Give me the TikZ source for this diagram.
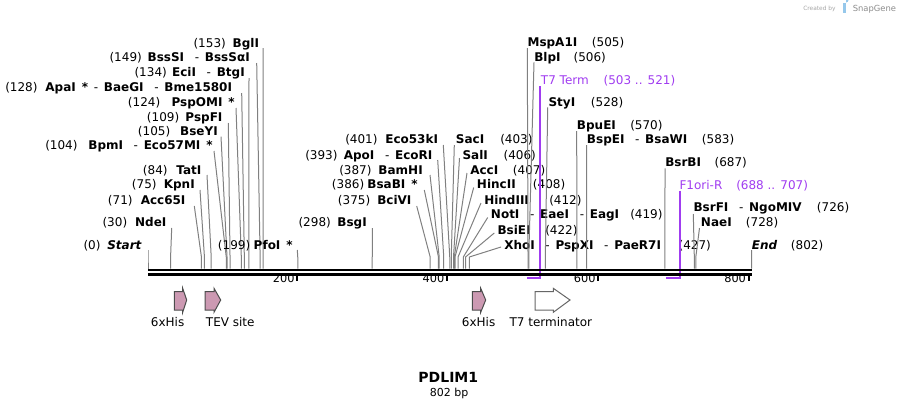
\documentclass[tikz,border=0pt]{standalone}
\usepackage{fontspec}
\setmainfont{DejaVu Sans}
\definecolor{prim}{RGB}{160,60,240}
\definecolor{feat}{RGB}{204,153,178}
\definecolor{sgblue}{RGB}{150,200,235}
\tikzset{
  lbl/.style={font=\fontsize{9}{10}\selectfont, inner sep=0pt},
  nm/.style={font=\fontsize{9}{10}\selectfont\bfseries, inner sep=0pt},
  plbl/.style={lbl, text=prim},
  siteline/.style={draw=black!50, line width=0.75pt},
  primline/.style={draw=prim, line width=1.4pt},
  featarrow/.style={fill=feat, draw=black!70, line width=0.75pt, line join=miter},
  termarrow/.style={fill=white, draw=black!60, line width=0.75pt, line join=miter},
  tickmark/.style={draw=black, line width=1.5pt},
  ticklbl/.style={font=\fontsize{8.5}{9}\selectfont, inner sep=0pt, anchor=base east},
  featlbl/.style={font=\fontsize{9}{10}\selectfont, inner sep=0pt, anchor=base west},
}
% left-hand labels: id, numx, num, name right x, name, y, line x, line y, site
\newcommand\cutL[9]{%
  \node[lbl, anchor=base west] (#1n) at (#2,{#6+4.3}) {(#3)};
  \node[nm, anchor=base east] (#1) at (#4,{#6+4.3}) {#5};
  \coordinate (#1t) at (#7,#8);
  \coordinate (#1k) at ({148+0.7525*#9},257);
  \coordinate (#1s) at ({148+0.7525*#9},268.5);
  \draw[siteline] (#1t) -- (#1k) -- (#1s);
}
% right-hand labels: id, name left x, name, numx, num, y, line x, line y, site
\newcommand\cutR[9]{%
  \node[nm, anchor=base west] (#1) at (#2,{#6+4.3}) {#3};
  \node[lbl, anchor=base west] (#1n) at (#4,{#6+4.3}) {(#5)};
  \coordinate (#1t) at (#7,#8);
  \coordinate (#1k) at ({148+0.7525*#9},257);
  \coordinate (#1s) at ({148+0.7525*#9},268.5);
  \draw[siteline] (#1t) -- (#1k) -- (#1s);
}
\newcommand\featshape[4]{% x1, x2, x3, style
  \path[#4] (#1,291.7) -- (#2,291.7) -- (#2,288.3) -- (#3,300) -- (#2,312.3) -- (#2,310) -- (#1,310) -- cycle;
}
\newcommand\lsep{{\mdseries\hspace{8pt}-\hspace{4.3pt}}}
\newcommand\astk{\hspace{4.5pt}*}
\begin{document}
\begin{tikzpicture}[x=0.75pt,y=-0.75pt]
\useasboundingbox (0,0) rectangle (900,408);
% site lines and labels, left side
\cutL{bgl}{193.3}{153}{259.3}{BglI}{42.7}{263}{48}{153}
\cutL{bss}{109.3}{149}{250}{BssSI\lsep BssSαI}{56.7}{256.7}{63}{149}
\cutL{eci}{134.3}{134}{245}{EciI\lsep BtgI}{72.3}{249}{78}{134}
\cutL{apa}{5}{128}{232.3}{ApaI\astk{\mdseries\hspace{4.3pt}-\hspace{4.3pt}}BaeGI\lsep Bme1580I}{87.3}{241.7}{93}{128}
\cutL{pom}{127.7}{124}{235}{PspOMI\astk}{102.3}{236}{108}{124}
\cutL{pfi}{146.7}{109}{222.7}{PspFI}{117.3}{228.3}{123}{109}
\cutL{bse}{137.7}{105}{218}{BseYI}{130.7}{221}{136.7}{105}
\cutL{bpm}{45}{104}{213}{BpmI\lsep Eco57MI\astk}{145}{214}{151}{104}
\cutL{tat}{142.7}{84}{201.7}{TatI}{170}{207}{175}{84}
\cutL{kpn}{131.7}{75}{195}{KpnI}{184.3}{200}{190}{75}
\cutL{acc}{107.7}{71}{185.7}{Acc65I}{200}{194.3}{206}{71}
\cutL{nde}{102.3}{30}{166.7}{NdeI}{221.7}{171.7}{228}{30}
\cutL{start}{83.3}{0}{141.7}{\itshape Start}{245}{148}{250}{0}
\cutL{pfo}{217.7}{199}{293}{PfoI\astk}{245}{297.3}{250}{199}
\cutL{bsg}{298.3}{298}{367}{BsgI}{221.7}{372.3}{228}{298}
\cutL{bci}{337.7}{375}{411.7}{BciVI}{200}{416.7}{206}{375}
\cutL{bsa}{331.7}{386}{418}{BsaBI\astk}{184.3}{424.3}{190}{386}
\cutL{bam}{339}{387}{423}{BamHI}{170}{430}{175}{387}
\cutL{apo}{305}{393}{432.7}{ApoI\lsep EcoRI}{155}{437.7}{160}{393}
\cutL{ecok}{345}{401}{438.3}{Eco53kI}{139.3}{443.3}{145}{401}
% right-middle group
\cutR{sac}{455.7}{SacI}{500}{403}{139.3}{454.3}{145}{403}
\cutR{sal}{462.3}{SalI}{503.3}{406}{155}{459.5}{158}{406}
\cutR{acci}{470}{AccI}{512.7}{407}{170}{467}{173}{407}
\cutR{hinc}{476.7}{HincII}{532.7}{408}{184.3}{473.7}{187.5}{408}
\cutR{hind}{484}{HindIII}{549}{412}{200}{481}{203}{412}
\cutR{not}{490.7}{NotI\lsep EaeI\lsep EagI}{630}{419}{214.3}{487.7}{217.5}{419}
\cutR{bsi}{497.3}{BsiEI}{545}{422}{230}{494.3}{233}{422}
\cutR{xho}{504}{XhoI\lsep PspXI\lsep PaeR7I}{678.3}{427}{245}{501}{247}{427}
% right group
\cutR{msp}{527.3}{MspA1I}{591.7}{505}{41.7}{527.3}{48}{505}
\cutR{blp}{534}{BlpI}{573.3}{506}{56.7}{534}{62.3}{506}
\cutR{sty}{548.3}{StyI}{590.7}{528}{101.7}{547.7}{107.3}{528}
\cutR{bpu}{576.7}{BpuEI}{630}{570}{125}{576.7}{131}{570}
\cutR{bsp}{586.7}{BspEI\lsep BsaWI}{701.7}{583}{139.3}{586.7}{145}{583}
\cutR{bsrb}{665}{BsrBI}{714.3}{687}{162.3}{665}{168.3}{687}
\cutR{bsrf}{693.3}{BsrFI\lsep NgoMIV}{816.7}{726}{206.7}{693.3}{214}{726}
\cutR{nae}{700.7}{NaeI}{745.7}{728}{221.7}{699.5}{228}{728}
\cutR{end}{751.7}{\itshape End}{790.7}{802}{245}{751.5}{250}{802}
% primers
\node[plbl, anchor=base west] (t7p) at (540.7,84.3) {T7 Term};
\node[plbl, anchor=base west] (t7pn) at (603.3,84.3) {(503 .. 521)};
\coordinate (t7t) at (540,86);
\coordinate (t7k) at (540,278);
\coordinate (t7e) at (526.5,278);
\draw[primline] (t7t) -- (t7k) -- (t7e);
\node[plbl, anchor=base west] (f1p) at (679.3,189.3) {F1ori-R};
\node[plbl, anchor=base west] (f1pn) at (736,189.3) {(688 .. 707)};
\coordinate (f1t) at (680,190.7);
\coordinate (f1k) at (680,278);
\coordinate (f1e) at (665.7,278);
\draw[primline] (f1t) -- (f1k) -- (f1e);
% backbone
\coordinate (bbA) at (148,270);
\coordinate (bbB) at (751.5,270);
\coordinate (bbC) at (148,274.5);
\coordinate (bbD) at (751.5,274.5);
\draw[line width=2.2pt] (bbA) -- (bbB);
\draw[line width=1.7pt] (bbC) -- (bbD);
% ticks
\foreach \v/\xx in {200/297.3,400/447,600/598.3,800/748.7}{
  \coordinate (tk\v) at (\xx,274);
  \coordinate (tb\v) at (\xx,281);
  \draw[tickmark] (tk\v) -- (tb\v);
  \node[ticklbl] (tl\v) at (\xx-2.5,282.5) {\v};
}
% features
\featshape{174.3}{182.7}{186.7}{featarrow}
\featshape{205}{214}{220.7}{featarrow}
\featshape{472.3}{480.7}{485.7}{featarrow}
\featshape{535}{553.3}{570}{termarrow}
\node[featlbl] (f1) at (150.7,326) {6xHis};
\node[featlbl] (f2) at (205.7,326) {TEV site};
\node[featlbl] (f3) at (461.7,326) {6xHis};
\node[featlbl] (f4) at (509.3,326) {T7 terminator};
% title
\node[font=\fontsize{10.5}{12}\selectfont\bfseries, inner sep=0pt, anchor=base] (title) at (448.3,382.5) {PDLIM1};
\node[font=\fontsize{8.25}{9}\selectfont, inner sep=0pt, anchor=base] (bp) at (449.2,396) {802 bp};
% watermark
\node[font=\fontsize{4.4}{5}\selectfont, text=black!35, inner sep=0pt, anchor=base west] (wm1) at (803,10) {Created by};
\path[fill=sgblue] (843,2.5) rectangle (846,12.5);
\path[fill=sgblue] (846,2.5) arc[start angle=90,end angle=-90,radius=2.5] -- cycle;
\node[font=\fontsize{6.3}{7}\selectfont, text=black!45, inner sep=0pt, anchor=base west] (wm2) at (852.5,11) {SnapGene};
\end{tikzpicture}
\end{document}
